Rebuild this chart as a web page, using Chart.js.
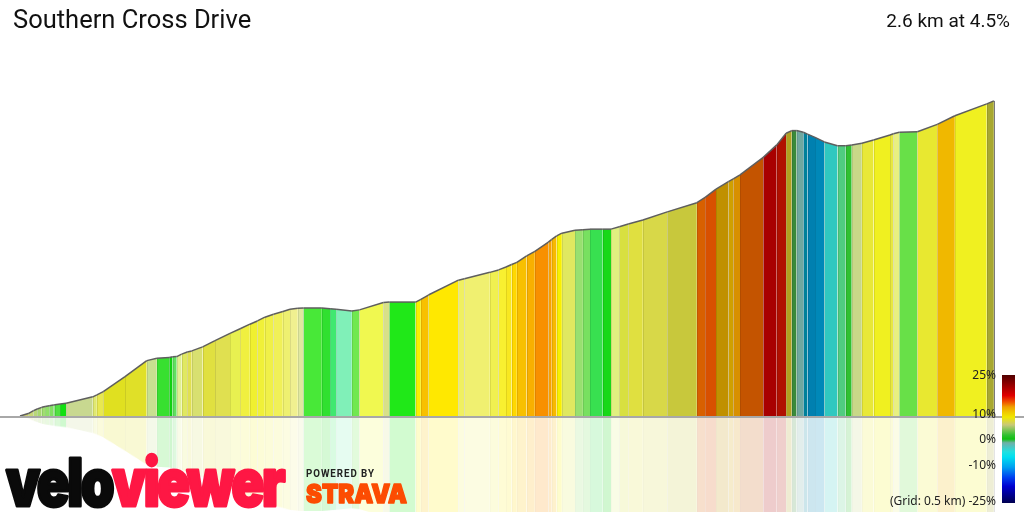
<!DOCTYPE html>
<html>
<head>
<meta charset="utf-8">
<title>Southern Cross Drive</title>
<script src="https://cdn.jsdelivr.net/npm/chart.js@4.4.1/dist/chart.umd.min.js"></script>
<style>
    html, body { margin: 0; padding: 0; background: #fff; }
    #wrap { width: 1024px; height: 512px; }
</style>
</head>
<body>
<div id="wrap"><canvas id="profile" width="1024" height="512"></canvas></div>
<script>
//Distance along the climb (km) at every change of gradient
const distKm = [0, 0.022, 0.036, 0.046, 0.058, 0.067, 0.078, 0.089, 0.093, 0.107,
    0.123, 0.194, 0.205, 0.222, 0.280, 0.338, 0.365, 0.398, 0.407, 0.418,
    0.431, 0.446, 0.458, 0.487, 0.520, 0.560, 0.587, 0.613, 0.633, 0.653,
    0.676, 0.701, 0.720, 0.741, 0.756, 0.805, 0.827, 0.843, 0.885, 0.905,
    0.969, 0.985, 1.055, 1.069, 1.089, 1.169, 1.185, 1.253, 1.276, 1.296,
    1.311, 1.325, 1.351, 1.373, 1.409, 1.418, 1.431, 1.445, 1.480, 1.501,
    1.520, 1.554, 1.576, 1.598, 1.622, 1.661, 1.726, 1.805, 1.827, 1.856,
    1.889, 1.902, 1.920, 1.982, 2.018, 2.043, 2.058, 2.071, 2.089, 2.100,
    2.120, 2.145, 2.180, 2.202, 2.218, 2.245, 2.276, 2.320, 2.329, 2.345,
    2.393, 2.446, 2.493, 2.578, 2.597];
//Elevation above the start of the segment (m)
const elevM = [0, 0.9, 2.0, 2.6, 3.2, 3.5, 3.8, 4.1, 4.2, 4.4,
    4.7, 7.1, 7.8, 9.0, 14.6, 20.5, 21.4, 21.7, 21.9, 22.0,
    22.9, 23.7, 24.1, 25.6, 27.9, 30.6, 32.3, 34.0, 35.2, 36.6,
    37.7, 38.7, 39.5, 39.9, 40.0, 40.0, 39.7, 39.5, 38.9, 39.3,
    42.0, 42.2, 42.2, 43.2, 44.8, 50.3, 50.8, 53.2, 54.1, 55.2,
    56.1, 56.9, 59.3, 61.0, 64.4, 65.4, 66.7, 67.7, 68.8, 69.0,
    69.2, 69.2, 69.2, 70.1, 71.1, 72.6, 75.6, 79.0, 81.0, 84.0,
    86.8, 87.8, 89.3, 95.8, 100.4, 104.7, 105.7, 105.7, 105.1, 104.4,
    103.2, 101.5, 100.1, 100.1, 100.4, 101.0, 102.2, 104.1, 104.5, 105.1,
    105.3, 108.0, 111.2, 115.6, 116.7];
//Fill of each stretch between two points (gradient colour)
const bandColors = ['#d0d070', '#c8d878', '#b8d878', '#a8d870', '#a0e070', '#90e068', '#80e060', '#70e060', '#50e040', '#10e010',
    '#c8d890', '#e0e870', '#e8e850', '#e0e020', '#e0e028', '#c8e090', '#38e030', '#10d010', '#60e060', '#e0f090',
    '#e0e860', '#e0e050', '#d8e070', '#e0e040', '#e0e050', '#e8f050', '#f0f040', '#f0f030', '#f0f038', '#f0f048',
    '#f0f058', '#eef070', '#f0f090', '#e0e8a0', '#48e838', '#30e030', '#40e870', '#80f0b8', '#70e850', '#f0f850',
    '#d8e088', '#20e818', '#f8f000', '#f8c000', '#ffe800', '#f0f060', '#f0f070', '#f0f050', '#f8f030', '#f8e820',
    '#ffd800', '#f8c000', '#f8b000', '#f89000', '#f8a000', '#f8b800', '#f8f000', '#e0e860', '#98e070', '#78e060',
    '#38e050', '#18d818', '#e0f080', '#d8e040', '#e0e040', '#d8d848', '#c8c83c', '#d86000', '#d85000', '#c09000',
    '#d0a000', '#d89000', '#c45400', '#a80000', '#b01000', '#b0a020', '#3a8a3a', '#70a8a0', '#00809a', '#0080b0',
    '#0088b8', '#30c8c0', '#50cc80', '#30c030', '#c8d888', '#e8e838', '#f0f020', '#e8e840', '#e8f080', '#68e048',
    '#e8e830', '#f0b800', '#f0f020', '#a8a830'];

const segmentName = 'Southern Cross Drive';
const summary = '2.6 km at 4.5%';
const gridNote = '(Grid: 0.5 km)';
//Gradient legend ticks (%)
const gradTicks = [25, 10, 0, -10, -25];
//Gradient legend colour stops [gradient %, colour]
const gradStops = [[25, '#500000'], [20.5, '#a00000'], [17, '#e00000'], [14.5, '#f05000'], [12.5, '#f0a000'],
    [10.5, '#f0c800'], [8.5, '#f0e800'], [5.5, '#c8c878'], [1.5, '#30c030'], [0, '#10c010'],
    [-1.5, '#70b0a8'], [-5, '#20e0e0'], [-7, '#00e0f0'], [-11, '#00a0f0'], [-15, '#0040f0'],
    [-18.5, '#0000d0'], [-25, '#000050']];

const points = distKm.map((d, i) => ({x: d, y: elevM[i]}));

const fitText = (ctx, parts, x, baseline, width, weight) => {
    /*
        Draws coloured text parts in a row, squeezed to the given width
        weight > 0 thickens the glyphs with a stroke of the same colour
    */
    const full = parts.map(p => p.text).join('');
    const w = ctx.measureText(full).width;
    ctx.save();
    ctx.translate(x, baseline);
    ctx.scale(width / w, 1);
    ctx.lineJoin = 'round';
    let cx = 0;
    parts.forEach(p => {
        ctx.fillStyle = p.color;
        ctx.fillText(p.text, cx, 0);
        if (weight > 0) {
            ctx.strokeStyle = p.color;
            ctx.lineWidth = weight;
            ctx.strokeText(p.text, cx, 0);
        }
        cx += ctx.measureText(p.text).width;
    });
    ctx.restore();
};

const profileDeco = {
    id: 'profileDeco',
    beforeDatasetDraw: (chart) => {
        //Runs after the filler painted the bands, before the outline
        const ctx = chart.ctx;
        const xs = chart.scales.x;
        const ys = chart.scales.y;
        const base = ys.getPixelForValue(0);
        ctx.save();
        //Thin edges between bands
        ctx.lineWidth = 1;
        for (let i = 1; i < distKm.length; i++) {
            const px = Math.round(xs.getPixelForValue(distKm[i])) + 0.5;
            ctx.strokeStyle = i == distKm.length - 1 ? '#7a7a7a' : 'rgba(0,0,0,0.09)';
            ctx.beginPath();
            ctx.moveTo(px, ys.getPixelForValue(elevM[i]));
            ctx.lineTo(px, base);
            ctx.stroke();
        }
        ctx.restore();
        //Faded reflection under the baseline
        const cv = chart.canvas;
        ctx.save();
        ctx.beginPath();
        ctx.rect(0, base, chart.width, chart.height - base);
        ctx.clip();
        ctx.globalAlpha = 0.2;
        ctx.translate(0, base);
        ctx.scale(1, -0.88);
        ctx.translate(0, -base);
        ctx.drawImage(cv, 0, 0, cv.width, base * cv.height / chart.height, 0, 0, chart.width, base);
        ctx.restore();
    },
    afterDatasetsDraw: (chart) => {
        const ctx = chart.ctx;
        const base = chart.scales.y.getPixelForValue(0);
        ctx.save();
        ctx.strokeStyle = '#a8a8a8';
        ctx.lineWidth = 2;
        ctx.beginPath();
        ctx.moveTo(0, base + 1);
        ctx.lineTo(chart.width, base + 1);
        ctx.stroke();
        ctx.restore();
    },
    afterDraw: (chart) => {
        const ctx = chart.ctx;
        ctx.save();
        //Header texts
        ctx.fillStyle = '#111';
        ctx.textBaseline = 'alphabetic';
        ctx.font = '25.5px Roboto';
        ctx.textAlign = 'left';
        ctx.fillText(segmentName, 13, 28);
        ctx.font = '19px Roboto';
        ctx.textAlign = 'right';
        ctx.fillText(summary, 1010, 27);

        //Gradient colour bar
        const barTop = 375, barBottom = 503;
        const gy = (g) => barTop + (25 - g) / 50 * (barBottom - barTop);
        const grad = ctx.createLinearGradient(0, barTop, 0, barBottom);
        gradStops.forEach(s => grad.addColorStop((25 - s[0]) / 50, s[1]));
        ctx.fillStyle = grad;
        ctx.fillRect(1002, barTop, 13, barBottom - barTop);

        ctx.fillStyle = '#222';
        ctx.font = '12px "Noto Sans"';
        ctx.textAlign = 'right';
        ctx.textBaseline = 'middle';
        gradTicks.forEach((g, i) => {
            let label = g + '%';
            if (i == gradTicks.length - 1) {
                label = gridNote + ' ' + label;
            }
            ctx.fillText(label, 996, Math.min(gy(g) + 1, 502));
        });

        //veloviewer / strava marks
        ctx.textAlign = 'left';
        ctx.textBaseline = 'alphabetic';
        ctx.font = '900 66px Inter, "DejaVu Sans", sans-serif';
        ctx.letterSpacing = '-3px';
        fitText(ctx, [{text: 'velo', color: '#0a0a0a'}, {text: 'viewer', color: '#fe1744'}], 6, 506, 276, 3);
        ctx.letterSpacing = '1px';
        ctx.font = 'bold 10px Roboto, sans-serif';
        fitText(ctx, [{text: 'POWERED BY', color: '#222'}], 306, 477, 69, 0);
        ctx.letterSpacing = '0px';
        ctx.font = '900 26px Inter, "DejaVu Sans", sans-serif';
        fitText(ctx, [{text: 'STRAVA', color: '#fc4c02'}], 306, 503, 101, 1.5);
        ctx.restore();
    }
};

const profileChart = new Chart('profile', {
    type: 'line',
    data: {
        datasets: [{
            data: points,
            fill: 'origin',
            tension: 0,
            pointRadius: 0,
            borderColor: '#5e5e5e',
            borderWidth: 1.5,
            backgroundColor: bandColors[0],
            segment: {
                backgroundColor: (c) => bandColors[c.p0DataIndex]
            }
        }]
    },
    options: {
        responsive: false,
        animation: false,
        devicePixelRatio: 1,
        layout: {padding: 0, autoPadding: false},
        plugins: {
            legend: {display: false},
            tooltip: {enabled: false},
            title: {display: false}
        },
        scales: {
            x: {type: 'linear', display: false, min: -0.05333, max: 2.67733},
            y: {type: 'linear', display: false, min: -35.56, max: 154.07}
        }
    },
    plugins: [profileDeco]
});
</script>
</body>
</html>
